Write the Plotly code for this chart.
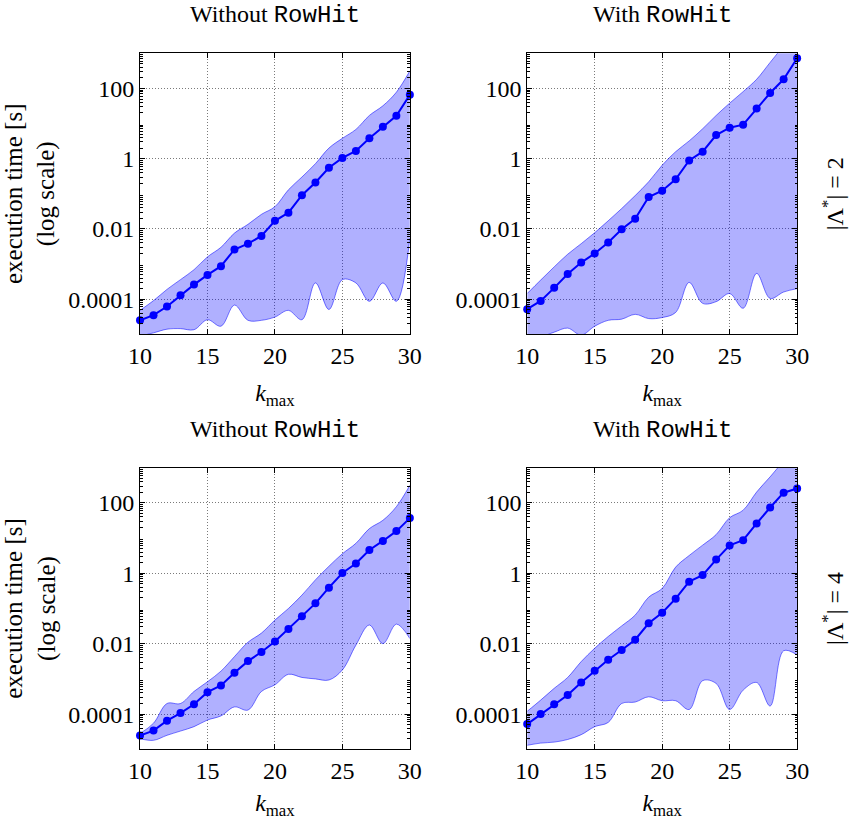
import plotly.graph_objects as go

# k_max values shared by all four panels
k_max = list(range(10, 31))

# |Lambda*| = 2, without RowHit: median and min/max envelope of execution time [s]
lam2_without_mid = [2.5e-5, 3.5e-5, 6.2e-5, 1.3e-4, 2.6e-4, 4.9e-4, 8.7e-4, 2.6e-3, 3.8e-3, 6.3e-3,
                    1.7e-2, 2.9e-2, 9.1e-2, 0.21, 0.55, 1.05, 1.66, 3.8, 8.1, 16.6, 66]
lam2_without_hi = [4.8e-5, 9.1e-5, 1.9e-4, 3.6e-4, 6.9e-4, 1.6e-3, 3.0e-3, 7.6e-3, 1.35e-2, 2.6e-2,
                   4.3e-2, 0.13, 0.30, 0.72, 2.0, 3.8, 6.8, 17, 32, 78, 316]
lam2_without_lo = [8.9e-6, 1.1e-5, 1.4e-5, 1.45e-5, 1.35e-5, 2.6e-5, 1.7e-5, 6.8e-5, 2.5e-5, 2.5e-5,
                   3.1e-5, 4.8e-5, 2.6e-5, 2.9e-4, 5.1e-5, 3.6e-4, 2.9e-4, 8.7e-5, 2.9e-4, 8.7e-5, 5.5e-3]

# |Lambda*| = 2, with RowHit
lam2_with_mid = [5.2e-5, 8.9e-5, 2.1e-4, 5.2e-4, 1.1e-3, 2.0e-3, 4.1e-3, 9.8e-3, 1.95e-2, 8.1e-2,
                 0.123, 0.26, 0.89, 1.58, 4.7, 7.6, 9.3, 27, 74, 182, 724]
lam2_with_hi = [1.45e-4, 3.5e-4, 8.3e-4, 1.9e-3, 3.8e-3, 7.8e-3, 1.7e-2, 3.8e-2, 8.9e-2, 0.22,
                0.65, 1.58, 3.2, 7.1, 17, 38, 81, 182, 550, 1600, 3900]
lam2_with_lo = [7.8e-6, 8.5e-6, 1.15e-5, 1.5e-5, 9.5e-6, 1.7e-5, 2.5e-5, 2.7e-5, 3.7e-5, 2.8e-5,
                3.0e-5, 4.2e-5, 3.0e-4, 7.6e-5, 8.5e-5, 1.45e-4, 5.5e-5, 5.4e-4, 1.05e-4, 1.6e-4, 2.0e-4]

# |Lambda*| = 4, without RowHit
lam4_without_mid = [2.45e-5, 3.4e-5, 6.5e-5, 1.07e-4, 1.9e-4, 4.2e-4, 6.5e-4, 1.5e-3, 3.2e-3, 5.8e-3,
                    1.15e-2, 2.6e-2, 6.0e-2, 0.14, 0.39, 1.02, 1.9, 4.6, 8.3, 15.8, 37]
lam4_without_hi = [2.8e-5, 5.5e-5, 2.0e-4, 2.0e-4, 4.4e-4, 8.3e-4, 1.66e-3, 4.3e-3, 1.1e-2, 2.0e-2,
                   4.7e-2, 0.10, 0.24, 0.65, 1.58, 3.6, 7.1, 18.6, 32, 78, 316]
lam4_without_lo = [2.0e-5, 1.8e-5, 2.5e-5, 3.3e-5, 4.4e-5, 6.8e-5, 8.9e-5, 1.6e-4, 1.3e-4, 4.4e-4,
                   6.8e-4, 1.35e-3, 1.1e-3, 1.0e-3, 9.3e-4, 1.8e-3, 9.1e-3, 3.4e-2, 1.0e-2, 3.6e-2, 1.4e-2]

# |Lambda*| = 4, with RowHit
lam4_with_mid = [5.2e-5, 1.0e-4, 1.9e-4, 3.5e-4, 7.9e-4, 1.7e-3, 3.5e-3, 6.6e-3, 1.3e-2, 3.8e-2,
                 7.6e-2, 0.19, 0.58, 0.89, 2.45, 6.2, 8.7, 26, 74, 195, 257]
lam4_with_hi = [1.2e-4, 2.5e-4, 5.4e-4, 1.1e-3, 3.1e-3, 7.4e-3, 1.6e-2, 3.2e-2, 6.5e-2, 0.21,
                0.37, 1.5, 3.2, 6.3, 12.6, 38, 62, 204, 550, 1550, 3900]
lam4_with_lo = [1.3e-5, 1.5e-5, 1.6e-5, 1.9e-5, 2.6e-5, 4.4e-5, 5.8e-5, 2.0e-4, 2.2e-4, 3.1e-4,
                2.4e-4, 2.4e-4, 1.35e-4, 8.9e-4, 7.4e-4, 1.35e-4, 4.8e-4, 7.9e-4, 1.7e-4, 6.3e-3, 4.8e-3]

y_tick_vals = [1e-4, 1e-2, 1, 100]
y_tick_text = ["0.0001", "0.01", "1", "100"]
x_tick_vals = [10, 15, 20, 25, 30]

col_titles = ["Without <span style='font-family:Liberation Mono'>RowHit</span>",
              "With <span style='font-family:Liberation Mono'>RowHit</span>"]
row_labels = ["|Λ<sup>*</sup>| = 2", "|Λ<sup>*</sup>| = 4"]

panels = [
    (lam2_without_lo, lam2_without_hi, lam2_without_mid),
    (lam2_with_lo, lam2_with_hi, lam2_with_mid),
    (lam4_without_lo, lam4_without_hi, lam4_without_mid),
    (lam4_with_lo, lam4_with_hi, lam4_with_mid),
]

W, H = 859, 820
col_px = [(131.7, 409.3), (530.0, 807.7)]
row_px = [(53.3, 334.3), (467.7, 749.3)]

SERIF = "Liberation Serif, Times New Roman, serif"
BLUE = "rgb(0,0,255)"
FILL = "rgba(0,0,255,0.31)"
EDGE = "rgba(0,0,255,0.65)"
GRID = "#7a7a7a"

fig = go.Figure()
layout = {}
minor_vals = [m * 10 ** e for e in range(-5, 3) for m in range(2, 10)]

for i, (lo, hi, mid) in enumerate(panels):
    r, c = divmod(i, 2)
    n = i + 1
    xa = "x" if n == 1 else f"x{n}"
    ya = "y" if n == 1 else f"y{n}"
    fig.add_trace(go.Scatter(x=k_max, y=lo, xaxis=xa, yaxis=ya, mode="lines",
                             line=dict(color=EDGE, width=0.8, shape="spline", smoothing=1.0),
                             showlegend=False, hoverinfo="skip"))
    fig.add_trace(go.Scatter(x=k_max, y=hi, xaxis=xa, yaxis=ya, mode="lines",
                             line=dict(color=EDGE, width=0.8, shape="spline", smoothing=1.0),
                             fill="tonexty", fillcolor=FILL,
                             showlegend=False, hoverinfo="skip"))
    fig.add_trace(go.Scatter(x=k_max, y=mid, xaxis=xa, yaxis=ya, mode="lines+markers",
                             line=dict(color=BLUE, width=2),
                             marker=dict(color=BLUE, size=8),
                             showlegend=False, cliponaxis=False))

    x0, x1 = col_px[c]
    y0, y1 = row_px[r]
    xkey = "xaxis" if n == 1 else f"xaxis{n}"
    ykey = "yaxis" if n == 1 else f"yaxis{n}"
    layout[xkey] = dict(
        domain=[x0 / W, x1 / W], anchor=ya, range=[10, 30],
        tickvals=x_tick_vals, ticks="inside", ticklen=5, tickcolor="black",
        showline=True, linecolor="black", linewidth=1, mirror="ticks",
        showgrid=True, gridcolor=GRID, griddash="1px,2px", gridwidth=1,
        zeroline=False, tickfont=dict(family=SERIF, size=24, color="black"),
        title=dict(text="<i>k</i><sub>max</sub>", font=dict(family=SERIF, size=24, color="black"),
                   standoff=16),
    )
    layout[ykey] = dict(
        domain=[1 - y1 / H, 1 - y0 / H], anchor=xa, type="log", range=[-5, 3],
        tickvals=y_tick_vals, ticktext=y_tick_text, ticks="inside", ticklen=5, tickcolor="black",
        showline=True, linecolor="black", linewidth=1, mirror="ticks",
        showgrid=True, gridcolor=GRID, griddash="1px,2px", gridwidth=1,
        zeroline=False, tickfont=dict(family=SERIF, size=24, color="black"),
        minor=dict(tickvals=minor_vals, ticks="inside", ticklen=2.5, tickcolor="black", showgrid=False),
    )
    if c == 0:
        layout[ykey]["title"] = dict(text="execution time [s]<br>(log scale)",
                                     font=dict(family=SERIF, size=25, color="black"), standoff=6)

annotations = []
for c, t in enumerate(col_titles):
    x0, x1 = col_px[c]
    for r in range(2):
        y0, _ = row_px[r]
        annotations.append(dict(text=t, x=(x0 + x1) / 2 / W, y=1 - (y0 - 38) / H,
                                xref="paper", yref="paper", showarrow=False,
                                xanchor="center", yanchor="middle",
                                font=dict(family=SERIF, size=24, color="black")))
for r, t in enumerate(row_labels):
    y0, y1 = row_px[r]
    annotations.append(dict(text=t, x=844 / W, y=1 - ((y0 + y1) / 2) / H,
                            xref="paper", yref="paper", showarrow=False, textangle=-90,
                            xanchor="center", yanchor="middle",
                            font=dict(family=SERIF, size=24, color="black")))

fig.update_layout(
    width=W, height=H, autosize=False,
    margin=dict(l=0, r=0, t=0, b=0),
    paper_bgcolor="white", plot_bgcolor="white",
    annotations=annotations,
    **layout,
)

fig.write_html("out.html")
